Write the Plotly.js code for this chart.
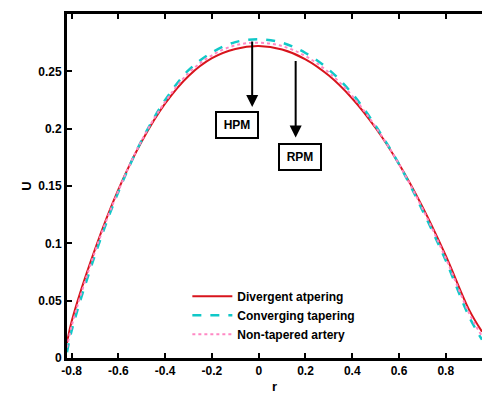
<!DOCTYPE html>
<html>
<head>
<meta charset="utf-8">
<script src="https://cdn.plot.ly/plotly-3.0.1.min.js"></script>
<style>html,body{margin:0;padding:0;background:#fff;}#chart{width:483px;height:394px;}</style>
</head>
<body>
<div id="chart"></div>
<script>
// radial positions
const r = [-0.82, -0.8, -0.7, -0.6, -0.5, -0.4, -0.3, -0.2, -0.1, 0, 0.1, 0.2, 0.3, 0.4, 0.5, 0.6, 0.7, 0.8, 0.9, 0.955];
// velocity profiles
const divergent = [0.013, 0.032, 0.095, 0.147, 0.189, 0.222, 0.246, 0.2615, 0.2695, 0.272, 0.269, 0.2605, 0.2463, 0.2263, 0.2006, 0.1692, 0.132, 0.0893, 0.042, 0.023];
const converging = [0.005, 0.024, 0.090, 0.145, 0.190, 0.225, 0.251, 0.2665, 0.2755, 0.278, 0.275, 0.266, 0.2515, 0.2305, 0.2025, 0.169, 0.129, 0.085, 0.036, 0.016];
const nonTapered = [0.009, 0.028, 0.093, 0.146, 0.190, 0.2235, 0.2485, 0.264, 0.2727, 0.275, 0.272, 0.2633, 0.249, 0.2285, 0.2015, 0.169, 0.1305, 0.087, 0.039, 0.019];
const seriesNames = ['Divergent atpering', 'Converging tapering', 'Non-tapered artery'];
const xTickVals = [-0.8, -0.6, -0.4, -0.2, 0, 0.2, 0.4, 0.6, 0.8];
const xTickText = ['-0.8', '-0.6', '-0.4', '-0.2', '0', '0.2', '0.4', '0.6', '0.8'];
const yTickVals = [0, 0.05, 0.1, 0.15, 0.2, 0.25];
const yTickText = ['0', '0.05', '0.1', '0.15', '0.2', '0.25'];

const F = 'Liberation Sans, Arial, sans-serif';
const traces = [
  {x: r, y: divergent, name: seriesNames[0], mode: 'lines', line: {color: '#d8141c', width: 2, shape: 'spline'}},
  {x: r, y: converging, name: seriesNames[1], mode: 'lines', line: {color: '#10c8c8', width: 2.5, dash: 'dash', shape: 'spline'}},
  {x: r, y: nonTapered, name: seriesNames[2], mode: 'lines', line: {color: '#ff88c4', width: 2, dash: 'dot', shape: 'spline'}}
];
const layout = {
  width: 483, height: 394,
  margin: {l: 67, r: 1, t: 14, b: 36},
  paper_bgcolor: '#fff', plot_bgcolor: '#fff',
  font: {family: F, size: 12, color: '#000', weight: 'bold'},
  showlegend: true,
  legend: {x: 0.29, y: 0.222, xanchor: 'left', yanchor: 'top', bgcolor: 'rgba(0,0,0,0)', borderwidth: 0,
           font: {family: F, size: 12, color: '#000', weight: 'bold'}, tracegroupgap: 0, itemwidth: 40},
  xaxis: {range: [-0.82, 0.955], tickvals: xTickVals, ticktext: xTickText, ticks: 'inside', ticklen: 5, tickwidth: 2,
          tickcolor: '#000', showline: true, linewidth: 3, linecolor: '#000', mirror: 'ticks', showgrid: false, zeroline: false,
          tickfont: {family: F, size: 12, weight: 'bold'},
          title: {text: 'r', font: {family: F, size: 13, weight: 'bold'}, standoff: 7}},
  yaxis: {range: [0, 0.3], tickvals: yTickVals, ticktext: yTickText, ticks: 'inside', ticklen: 5, tickwidth: 2,
          tickcolor: '#000', showline: true, linewidth: 3, linecolor: '#000', showgrid: false, zeroline: false,
          tickfont: {family: F, size: 12, weight: 'bold'},
          title: {text: 'U', font: {family: F, size: 13, weight: 'bold'}, standoff: 4}},
  yaxis2: {range: [0, 0.3], overlaying: 'y', side: 'right', tickvals: yTickVals, showticklabels: false, ticks: 'inside',
           ticklen: 4, tickwidth: 2, tickcolor: '#000', showline: true, linewidth: 1, linecolor: '#aaa', showgrid: false, zeroline: false},
  annotations: [
    {x: -0.028, y: 0.219, xref: 'x', yref: 'y', text: '', showarrow: true, ax: 0, ay: -67, arrowhead: 2, arrowsize: 1.2, arrowwidth: 2, arrowcolor: '#000'},
    {x: 0.158, y: 0.1923, xref: 'x', yref: 'y', text: '', showarrow: true, ax: 0, ay: -78, arrowhead: 2, arrowsize: 1.2, arrowwidth: 2, arrowcolor: '#000'},
    {x: -0.094, y: 0.2035, xref: 'x', yref: 'y', text: 'HPM', showarrow: false, bgcolor: '#fff', bordercolor: '#000', borderwidth: 2,
     borderpad: 1, width: 38, height: 22, font: {family: F, size: 12, weight: 'bold'}},
    {x: 0.1756, y: 0.1757, xref: 'x', yref: 'y', text: 'RPM', showarrow: false, bgcolor: '#fff', bordercolor: '#000', borderwidth: 2,
     borderpad: 1, width: 38, height: 22, font: {family: F, size: 12, weight: 'bold'}}
  ]
};
Plotly.newPlot('chart', traces, layout, {displayModeBar: false, staticPlot: true});
</script>
</body>
</html>
